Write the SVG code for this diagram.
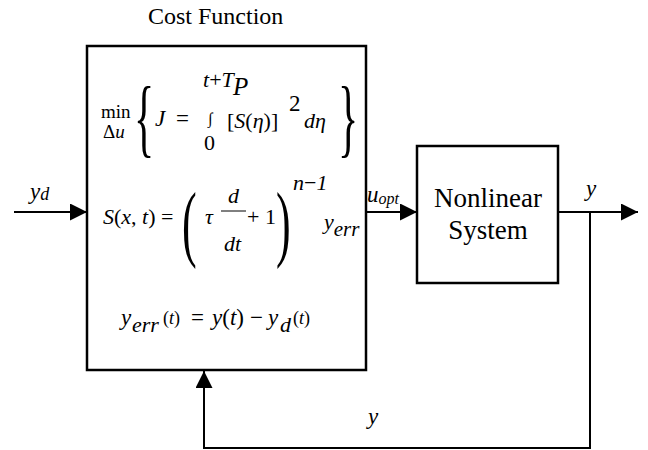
<svg xmlns="http://www.w3.org/2000/svg" width="648" height="450" viewBox="0 0 648 450">
<defs>
<style>
.i{font-style:italic}
.n{font-style:normal}
.box{fill:#fff;stroke:#000;stroke-width:2.5}
.ln{fill:none;stroke:#000;stroke-width:2}
</style>
<marker id="ahb" viewBox="0 0 10 10" refX="10" refY="5" markerWidth="17" markerHeight="17" markerUnits="userSpaceOnUse" orient="auto">
<path d="M0,0 L10,5 L0,10 z" fill="#000"/>
</marker>
</defs>
<rect width="648" height="450" fill="#fff"/>
<g font-family="Liberation Serif, DejaVu Serif, Times New Roman, serif" fill="#000">
<g id="connectors">
<line class="ln" x1="14" y1="212" x2="87" y2="212" marker-end="url(#ahb)"/>
<line class="ln" x1="366" y1="212" x2="417" y2="212" marker-end="url(#ahb)"/>
<line class="ln" x1="558" y1="212" x2="638" y2="212" marker-end="url(#ahb)"/>
<polyline class="ln" points="590,212 590,448 204,448 204,371" marker-end="url(#ahb)"/>
<text class="i" x="30" y="199" font-size="23">y<tspan font-size="18" dy="1">d</tspan></text>
<text class="i" x="367" y="202" font-size="23">u<tspan font-size="16" dy="2">opt</tspan></text>
<text class="i" x="586" y="196" font-size="23">y</text>
<text class="i" x="368" y="424" font-size="23">y</text>
</g>
<g id="cost">
<text x="148" y="24" font-size="24">Cost Function</text>
<rect class="box" x="87" y="46" width="279" height="324"/>
<text x="101" y="118" font-size="19">min</text>
<text x="103" y="138" font-size="19">Δ<tspan class="i">u</tspan></text>
<text font-size="42" transform="translate(134,146.4) scale(1,2.05)">{</text>
<text class="i" x="155" y="126" font-size="23">J</text>
<text x="176" y="126" font-size="23">=</text>
<text class="i" x="203" y="87" font-size="22">t<tspan class="n">+</tspan>T</text>
<text class="i" x="233" y="95" font-size="25">P</text>
<text x="208" y="124" font-size="16">∫</text>
<text x="204" y="150" font-size="22">0</text>
<text x="227" y="128" font-size="22">[<tspan class="i">S</tspan>(<tspan class="i">η</tspan>)]</text>
<text x="289" y="111" font-size="23">2</text>
<text class="i" x="304" y="128" font-size="22">dη</text>
<text font-size="42" transform="translate(338,146.4) scale(1,2.05)">}</text>
<text x="103" y="224" font-size="22"><tspan class="i">S</tspan>(<tspan class="i">x</tspan>, <tspan class="i">t</tspan>) =</text>
<text font-size="44" transform="translate(182,251) scale(1,1.94)">(</text>
<text class="i" x="205" y="224" font-size="22">τ</text>
<text class="i" x="228" y="203" font-size="22">d</text>
<line x1="221" y1="211" x2="246" y2="211" stroke="#000" stroke-width="1"/>
<text class="i" x="224" y="251" font-size="22">dt</text>
<text x="247" y="224" font-size="22">+ 1</text>
<text font-size="44" transform="translate(276,251) scale(1,1.94)">)</text>
<text class="i" x="293" y="190" font-size="22">n<tspan class="n">−</tspan>1</text>
<text class="i" x="324" y="229" font-size="22">y<tspan dy="7" font-size="21">err</tspan></text>
<text class="i" x="121" y="325" font-size="23">y</text>
<text class="i" x="132" y="332" font-size="22">err</text>
<text x="163" y="324" font-size="18">(<tspan class="i">t</tspan>)</text>
<text x="191" y="325" font-size="23">=</text>
<text x="212" y="325" font-size="23"><tspan class="i">y</tspan>(<tspan class="i">t</tspan>)</text>
<text x="250" y="325" font-size="23">−</text>
<text class="i" x="268" y="325" font-size="23">y</text>
<text class="i" x="280" y="332" font-size="22">d</text>
<text x="293" y="324" font-size="18">(<tspan class="i">t</tspan>)</text>
</g>
<g id="nonlinear">
<rect class="box" x="417" y="146" width="141" height="137"/>
<text x="488" y="207" font-size="27" text-anchor="middle">Nonlinear</text>
<text x="488" y="239" font-size="27" text-anchor="middle">System</text>
</g>
</g>
</svg>
